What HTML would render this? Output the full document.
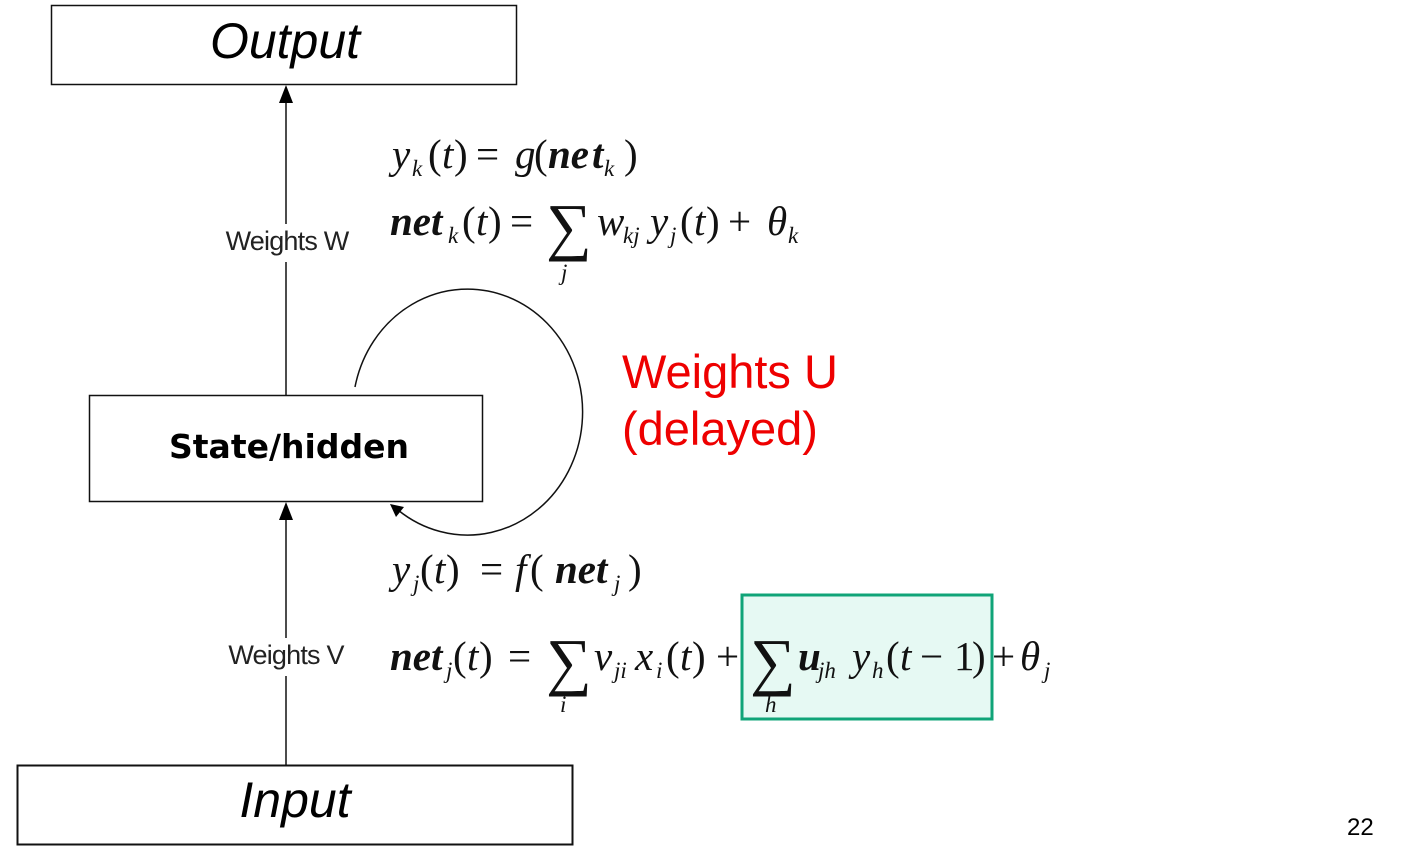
<!DOCTYPE html>
<html><head><meta charset="utf-8"><style>
html,body{margin:0;padding:0;background:#fff;width:1416px;height:865px;overflow:hidden}
svg{display:block}
.m{font-family:"Liberation Serif",serif;font-style:italic;font-size:41px;fill:#111}
.b{font-weight:bold}
.s{font-size:23px}
.u{font-style:normal}
.lbl{font-family:"Liberation Sans",sans-serif;font-size:27px;fill:#222;letter-spacing:-0.8px}
</style></head><body>
<svg width="1416" height="865" viewBox="0 0 1416 865" xmlns="http://www.w3.org/2000/svg">
<rect x="51.5" y="5.5" width="465" height="79" fill="#fff" stroke="#111" stroke-width="1.5"/>
<text x="285" y="58" text-anchor="middle" font-family="Liberation Sans, sans-serif" font-style="italic" font-size="50" fill="#000">Output</text>
<rect x="89.5" y="395.5" width="393" height="106" fill="#fff" stroke="#111" stroke-width="1.5"/>
<text x="289" y="458" text-anchor="middle" font-family="DejaVu Sans, sans-serif" font-weight="bold" font-size="33" fill="#000">State/hidden</text>
<rect x="17.5" y="765.5" width="555" height="79" fill="#fff" stroke="#111" stroke-width="2"/>
<text x="295" y="817" text-anchor="middle" font-family="Liberation Sans, sans-serif" font-style="italic" font-size="50" fill="#000">Input</text>
<line x1="286" y1="100" x2="286" y2="224" stroke="#111" stroke-width="1.5"/>
<line x1="286" y1="262" x2="286" y2="395" stroke="#111" stroke-width="1.5"/>
<polygon points="286,85 279,103 293,103" fill="#000"/>
<line x1="286" y1="518" x2="286" y2="638" stroke="#111" stroke-width="1.5"/>
<line x1="286" y1="676" x2="286" y2="765" stroke="#111" stroke-width="1.5"/>
<polygon points="286,502 279,520 293,520" fill="#000"/>
<text x="287" y="250" text-anchor="middle" class="lbl">Weights W</text>
<text x="286" y="664" text-anchor="middle" class="lbl">Weights V</text>
<path d="M355,387 A115,123 0 1 1 398,510" fill="none" stroke="#111" stroke-width="1.5"/>
<polygon points="390,504 404,507 396,517" fill="#000"/>
<text x="622" y="388" font-family="Liberation Sans, sans-serif" font-size="47" fill="#ee0000">Weights U</text>
<text x="622" y="445" font-family="Liberation Sans, sans-serif" font-size="47" fill="#ee0000">(delayed)</text>
<rect x="742" y="595" width="250" height="124" fill="#e6f9f3" stroke="#10a478" stroke-width="3"/>
<text class="m" y="168"><tspan x="392">y</tspan><tspan x="412" y="176" class="s">k</tspan><tspan x="428" y="168" class="u">(</tspan><tspan x="442">t</tspan><tspan x="454" class="u">)</tspan><tspan x="476" class="u">=</tspan><tspan x="515">g</tspan><tspan x="534" class="u">(</tspan><tspan x="548" class="b">ne</tspan><tspan x="592" class="b">t</tspan><tspan x="604" y="176" class="s">k</tspan><tspan x="624" y="168" class="u">)</tspan></text>
<text class="m" y="235"><tspan x="390" class="b">net</tspan><tspan x="448" y="243" class="s">k</tspan><tspan x="462" y="235" class="u">(</tspan><tspan x="476">t</tspan><tspan x="488" class="u">)</tspan><tspan x="510" class="u">=</tspan><tspan x="546" y="248" class="u" font-size="64">∑</tspan><tspan x="597" y="235">w</tspan><tspan x="623" y="243" class="s">kj</tspan><tspan x="650" y="235">y</tspan><tspan x="670" y="243" class="s">j</tspan><tspan x="680" y="235" class="u">(</tspan><tspan x="694">t</tspan><tspan x="706" class="u">)</tspan><tspan x="728" class="u">+</tspan><tspan x="767">θ</tspan><tspan x="788" y="243" class="s">k</tspan></text>
<text class="m s" x="561" y="280">j</text>
<text class="m" y="583"><tspan x="392">y</tspan><tspan x="413" y="591" class="s">j</tspan><tspan x="420" y="583" class="u">(</tspan><tspan x="434">t</tspan><tspan x="446" class="u">)</tspan><tspan x="480" class="u">=</tspan><tspan x="515">f</tspan><tspan x="530" class="u">(</tspan><tspan x="555" class="b">net</tspan><tspan x="614" y="591" class="s">j</tspan><tspan x="628" y="583" class="u">)</tspan></text>
<text class="m" y="670"><tspan x="390" class="b">net</tspan><tspan x="446" y="678" class="s">j</tspan><tspan x="453" y="670" class="u">(</tspan><tspan x="467">t</tspan><tspan x="479" class="u">)</tspan><tspan x="508" class="u">=</tspan><tspan x="546" y="683" class="u" font-size="64">∑</tspan><tspan x="594" y="670">v</tspan><tspan x="614" y="678" class="s">ji</tspan><tspan x="635" y="670">x</tspan><tspan x="656" y="678" class="s">i</tspan><tspan x="666" y="670" class="u">(</tspan><tspan x="680">t</tspan><tspan x="692" class="u">)</tspan><tspan x="716" class="u">+</tspan><tspan x="750" y="683" class="u" font-size="64">∑</tspan><tspan x="798" y="670" class="b">u</tspan><tspan x="818" y="678" class="s">jh</tspan><tspan x="852" y="670">y</tspan><tspan x="872" y="678" class="s">h</tspan><tspan x="886" y="670" class="u">(</tspan><tspan x="900">t</tspan><tspan x="920" class="u">−</tspan><tspan x="954" class="u">1</tspan><tspan x="972" class="u">)</tspan><tspan x="992" class="u">+</tspan><tspan x="1020">θ</tspan><tspan x="1044" y="678" class="s">j</tspan></text>
<text class="m s" x="560" y="712">i</text>
<text class="m s" x="765" y="712">h</text>
<text x="1347" y="835" font-family="Liberation Sans, sans-serif" font-size="24" fill="#000">22</text>
</svg>
</body></html>
